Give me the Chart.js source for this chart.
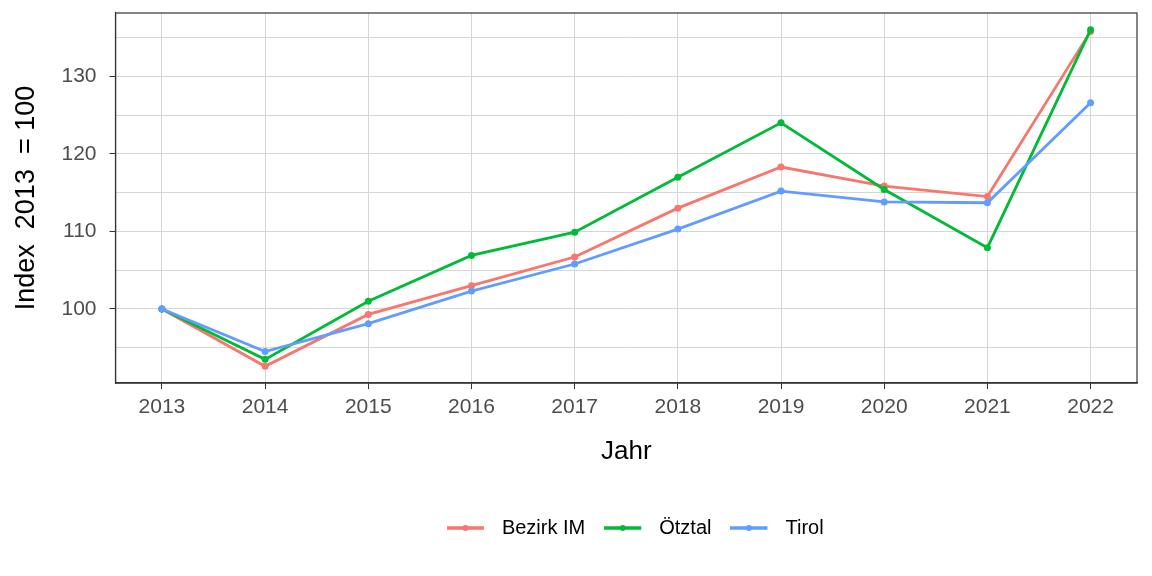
<!DOCTYPE html>
<html>
<head>
<meta charset="utf-8">
<script src="https://cdn.jsdelivr.net/npm/chart.js@4/dist/chart.umd.min.js"></script>
<style>
  body { margin: 0; background: #fff; }
</style>
</head>
<body>
<canvas id="chart" width="1152" height="576"></canvas>
<script>
// Jahre und Indexwerte (2013 = 100)
const years = [2013, 2014, 2015, 2016, 2017, 2018, 2019, 2020, 2021, 2022]
const bezirkIM = [100, 92.6, 99.3, 103.0, 106.7, 113.0, 118.3, 115.85, 114.5, 135.8]
const oetztal = [100, 93.5, 101.0, 106.9, 109.9, 117.0, 124.0, 115.4, 107.9, 136.0]
const tirol = [100, 94.5, 98.1, 102.3, 105.8, 110.3, 115.2, 113.8, 113.7, 126.6]

const seriesNames = ['Bezirk IM', 'Ötztal', 'Tirol']
const seriesColors = ['#F8766D', '#00BA38', '#619CFF']
const yTicks = [95, 100, 105, 110, 115, 120, 125, 130, 135]

const fontFamily = '"Liberation Sans", Arial, sans-serif'

// small legend key: line with a dot, like ggplot
const legendKey = (color) => {
  let c = document.createElement('canvas')
  c.width = 45
  c.height = 20
  let g = c.getContext('2d')
  g.strokeStyle = color
  g.lineWidth = 3.5
  g.beginPath()
  g.moveTo(0, 10)
  g.lineTo(37, 10)
  g.stroke()
  g.fillStyle = color
  g.beginPath()
  g.arc(18.5, 10, 3, 0, Math.PI * 2)
  g.fill()
  return c
}

const makeDataset = (name, values, color, order) => {
  return {
    label: name,
    data: years.map((yr, i) => ({ x: yr, y: values[i] })),
    borderColor: color,
    backgroundColor: color,
    borderWidth: 2.8,
    pointRadius: 3.5,
    pointBorderWidth: 0,
    pointHoverRadius: 3.5,
    order: order
  }
}

// panel border on top and right
const panelBorder = {
  id: 'panelBorder',
  afterDraw(chart) {
    const { ctx, chartArea } = chart
    ctx.save()
    ctx.strokeStyle = '#333333'
    ctx.lineWidth = 1.2
    ctx.strokeRect(chartArea.left, chartArea.top, chartArea.right - chartArea.left, chartArea.bottom - chartArea.top)
    ctx.restore()
  }
}

// nudge the legend a little to the right (ggplot centres it differently)
const legendShift = {
  id: 'legendShift',
  afterLayout(chart) {
    chart.legend.left += 9
    chart.legend.right += 9
  }
}

new Chart(document.getElementById('chart'), {
  type: 'line',
  data: {
    datasets: [
      makeDataset(seriesNames[0], bezirkIM, seriesColors[0], 2),
      makeDataset(seriesNames[1], oetztal, seriesColors[1], 1),
      makeDataset(seriesNames[2], tirol, seriesColors[2], 0)
    ]
  },
  options: {
    responsive: false,
    animation: false,
    devicePixelRatio: 1,
    layout: { padding: { top: 13, right: 15, bottom: 28, left: 0 } },
    plugins: {
      tooltip: { enabled: false },
      legend: {
        position: 'bottom',
        fullSize: false,
        labels: {
          usePointStyle: true,
          pointStyleWidth: 45,
          padding: 19,
          color: '#000',
          font: { family: fontFamily, size: 20 },
          generateLabels: (chart) => chart.data.datasets.map((ds, i) => ({
            text: ds.label,
            pointStyle: legendKey(seriesColors[i]),
            fillStyle: seriesColors[i],
            strokeStyle: seriesColors[i],
            lineWidth: 0,
            datasetIndex: i
          }))
        }
      }
    },
    scales: {
      x: {
        type: 'linear',
        min: 2012.55,
        max: 2022.45,
        afterBuildTicks: (scale) => { scale.ticks = years.map(v => ({ value: v })) },
        afterFit: (scale) => { scale.paddingLeft = 0; scale.paddingRight = 0 },
        grid: { color: '#d6d6d6', lineWidth: 1, tickLength: 6, tickColor: '#333333' },
        border: { display: true, color: '#333333', width: 1.4 },
        ticks: {
          padding: 6,
          color: '#4d4d4d',
          font: { family: fontFamily, size: 21 },
          callback: (v) => String(v)
        },
        title: {
          display: true,
          text: 'Jahr',
          color: '#000',
          font: { family: fontFamily, size: 26 },
          padding: { top: 9.6, bottom: 32 }
        }
      },
      y: {
        min: 90.45,
        max: 138.17,
        afterBuildTicks: (scale) => { scale.ticks = yTicks.map(v => ({ value: v })) },
        afterFit: (scale) => {
          scale.width = 115.5
          scale.paddingTop = 0
          scale.paddingBottom = 0
        },
        grid: {
          color: '#d6d6d6',
          lineWidth: 1,
          tickLength: 6,
          tickColor: (c) => (c.tick && c.tick.value % 10 === 0) ? '#333333' : 'rgba(0,0,0,0)'
        },
        border: { display: true, color: '#333333', width: 1.2 },
        ticks: {
          padding: 13,
          color: '#4d4d4d',
          font: { family: fontFamily, size: 21 },
          callback: (v) => v % 10 === 0 ? String(v) : ''
        },
        title: {
          display: true,
          text: 'Index  2013  = 100',
          color: '#000',
          font: { family: fontFamily, size: 27 },
          padding: { top: 10.5, bottom: 8 }
        }
      }
    }
  },
  plugins: [panelBorder, legendShift]
})
</script>
</body>
</html>
